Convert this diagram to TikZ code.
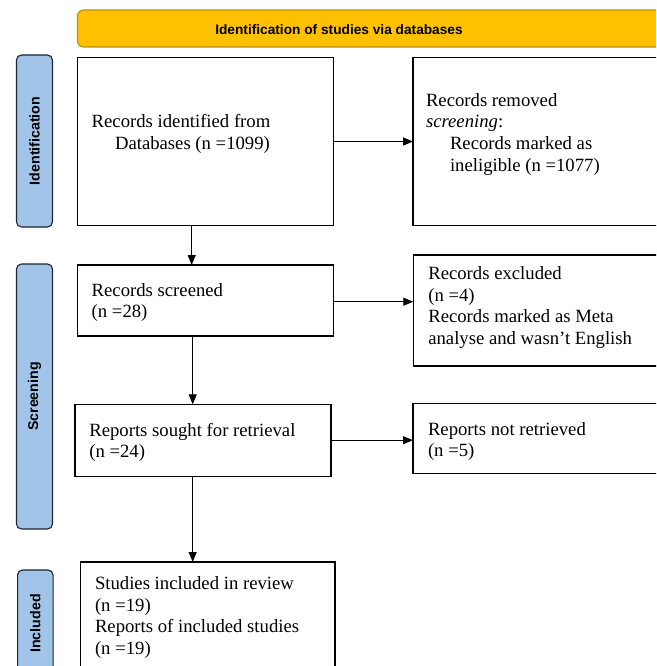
\documentclass[tikz,border=0pt]{standalone}
\usepackage{fontspec}
\setmainfont{Liberation Serif}
\setsansfont{Liberation Sans}
\usetikzlibrary{arrows.meta}
\definecolor{hdryellow}{HTML}{FFC000}
\definecolor{hdrborder}{HTML}{B8900A}
\definecolor{sideblue}{HTML}{A1C4E8}
\definecolor{sideborder}{HTML}{1E2430}
\newcommand\mlines[1]{\vtop{\baselineskip=21.6pt\lineskiplimit=-20pt\halign{##\hfil\cr#1\crcr}}}
\tikzset{
  box/.style={draw=black, line width=1.1pt, fill=white, rectangle, inner sep=0pt, outer sep=0pt},
  txt/.style={anchor=base west, inner sep=0pt, outer sep=0pt, font=\fontsize{18.7}{21.6}\selectfont},
  side/.style={draw=sideborder, fill=sideblue, rounded corners=5pt, line width=1.1pt, inner sep=0pt,
    rotate=90, font=\fontsize{14.2}{16}\selectfont\sffamily\bfseries},
  header/.style={draw=hdrborder, fill=hdryellow, rounded corners=6pt, line width=1.1pt, inner sep=0pt},
  hdrtxt/.style={inner sep=0pt, font=\fontsize{13.7}{16}\selectfont\sffamily\bfseries},
  arr/.style={-{Triangle[length=10pt,width=8pt]}, line width=1.1pt},
}
\begin{document}
\begin{tikzpicture}[x=1pt,y=-1pt]
\useasboundingbox (0,0) rectangle (656,666);
\clip (0,0) rectangle (656,666);
% header
\node[header, minimum width=622.5pt, minimum height=37pt] (hdr) at (388.75,28.5) {};
\node[hdrtxt] (hdrt) at (339,30) {Identification of studies via databases};
% side labels
\node[side, minimum width=172pt, minimum height=36pt] (sid) at (34.5,141) {Identification};
\node[side, minimum width=265pt, minimum height=36pt] (ssc) at (34.5,396.5) {Screening};
\node[side, minimum width=107pt, minimum height=35.5pt] (sin) at (35.3,623.5) {Included};
% boxes
\node[box, minimum width=256pt, minimum height=168.4pt] (b1) at (205.3,141.5) {};
\node[box, minimum width=267pt, minimum height=168.4pt] (b2) at (546.5,141.5) {};
\node[box, minimum width=256pt, minimum height=71pt] (scr) at (205.3,300.5) {};
\node[box, minimum width=256pt, minimum height=71.7pt] (sou) at (203,440.2) {};
\node[box, minimum width=267pt, minimum height=111pt] (exc) at (546.8,310.5) {};
\node[box, minimum width=267pt, minimum height=70pt] (nre) at (546.5,438.3) {};
\node[box, minimum width=254.3pt, minimum height=140pt] (inc) at (207.85,632) {};
% texts
\node[txt] (t1) at (91.7,127.8) {\mlines{Records identified from\cr\hskip23.3pt Databases (n =1099)}};
\node[txt] (t2) at (426,106.3) {\mlines{Records removed\cr\textit{screening}:\cr\hskip24pt Records marked as\cr\hskip24pt ineligible (n =1077)}};
\node[txt] (t3) at (91.7,296.3) {\mlines{Records screened\cr(n =28)}};
\node[txt] (t4) at (89.3,436.3) {\mlines{Reports sought for retrieval\cr(n =24)}};
\node[txt] (t5) at (428.3,279.6) {\mlines{Records excluded\cr(n =4)\cr Records marked as Meta\cr analyse and wasn’t English}};
\node[txt] (t6) at (428,435.3) {\mlines{Reports not retrieved\cr(n =5)}};
\node[txt] (t7) at (95,589.6) {\mlines{Studies included in review\cr(n =19)\cr Reports of included studies\cr(n =19)}};
% connectors
\coordinate (ax1) at (191.7,0);
\coordinate (ax2) at (192.7,0);
\draw[arr] (b1.south -| ax1) -- (scr.north -| ax1);
\draw[arr] (scr.south -| ax2) -- (sou.north -| ax2);
\draw[arr] (sou.south -| ax2) -- (inc.north -| ax2);
\draw[arr] (b1.east) -- (b1.east -| b2.west);
\draw[arr] ([yshift=-1.2pt]scr.east) -- ([yshift=-1.2pt]scr.east -| exc.west);
\draw[arr] (sou.east) -- (sou.east -| nre.west);
\end{tikzpicture}
\end{document}
